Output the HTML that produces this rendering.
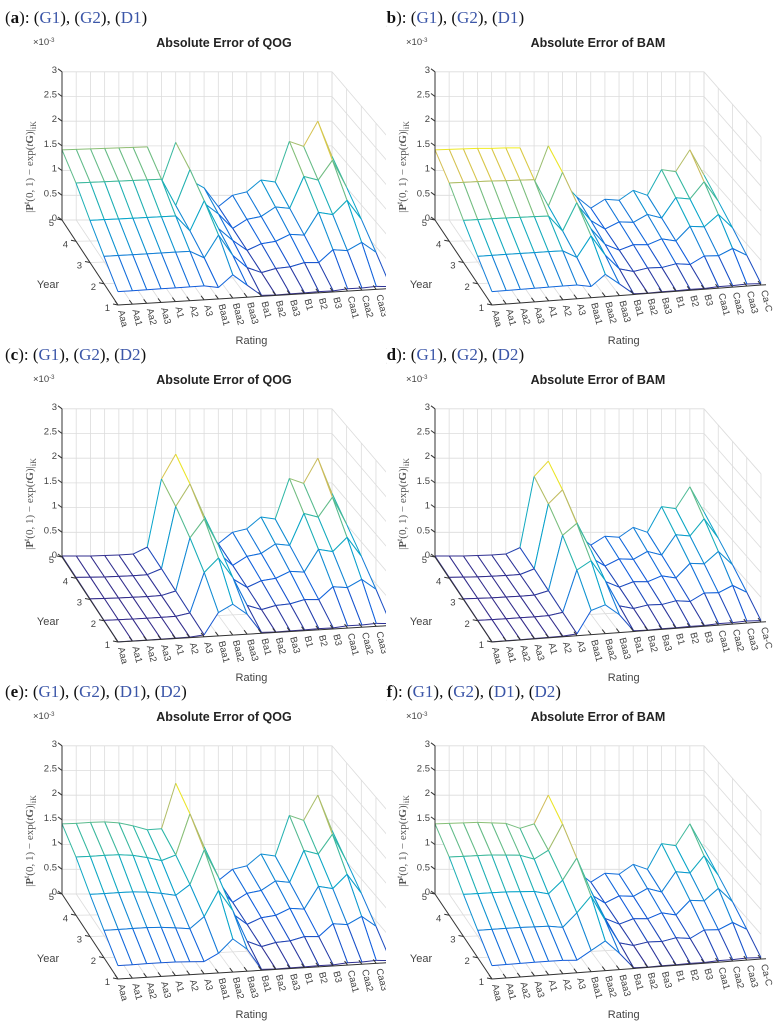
<!DOCTYPE html>
<html><head><meta charset="utf-8">
<style>
html,body{margin:0;padding:0;background:#fff;}
svg{display:block;}
.hdr{font-family:"Liberation Serif",serif;font-size:17px;fill:#111;}
.blue{fill:#3b56a8;}
.ttl{font-family:"Liberation Sans",sans-serif;font-size:12.5px;font-weight:bold;fill:#222;}
.tk{font-family:"Liberation Sans",sans-serif;font-size:9.5px;fill:#444;}
.ax{font-family:"Liberation Sans",sans-serif;font-size:11px;fill:#444;}
.zl{font-family:"Liberation Serif",serif;font-size:11px;fill:#555;}
</style></head>
<body>
<svg id="fig" width="776" height="1024" viewBox="0 0 776 1024" xmlns="http://www.w3.org/2000/svg">
<defs>
<clipPath id="clipL"><rect x="0" y="0" width="386" height="1024"/></clipPath>
<clipPath id="clipR"><rect x="386" y="0" width="390" height="1024"/></clipPath>
</defs>
</svg>
<script>
const ratings = ['Aaa','Aa1','Aa2','Aa3','A1','A2','A3','Baa1','Baa2','Baa3','Ba1','Ba2','Ba3','B1','B2','B3','Caa1','Caa2','Caa3','Ca-C'];
const years = [1,2,3,4,5];
const yearTickLabels = ['1','2','3','4','5'];
const zTicks = [0,0.5,1,1.5,2,2.5,3];
const zTickLabels = ['0','0.5','1','1.5','2','2.5','3'];
// back-row (year 5) error profiles, units of 1e-3
const profileA = [1.42,1.43,1.44,1.45,1.46,1.47,1.48,0.77,1.57,0.81,0.65,0.27,0.5,0.57,0.81,0.77,1.59,1.49,2.0,1.29];
const profileB = [1.42,1.43,1.44,1.45,1.45,1.46,1.46,0.75,1.5,0.78,0.47,0.24,0.42,0.4,0.6,0.5,1.02,0.98,1.42,0.91];
const profileC = [0.02,0.02,0.02,0.03,0.04,0.06,0.2,1.58,2.08,1.35,0.6,0.27,0.5,0.57,0.81,0.77,1.59,1.49,2.0,1.29];
const profileD = [0.02,0.02,0.02,0.03,0.04,0.06,0.19,1.63,1.94,1.2,0.47,0.24,0.42,0.4,0.6,0.5,1.02,0.98,1.42,0.91];
const profileE = [1.42,1.43,1.45,1.46,1.44,1.38,1.3,1.32,2.24,1.49,0.67,0.27,0.5,0.57,0.81,0.77,1.59,1.49,2.0,1.29];
const profileF = [1.42,1.43,1.44,1.45,1.44,1.43,1.33,1.42,2.0,1.1,0.47,0.24,0.42,0.4,0.6,0.5,1.02,0.98,1.42,0.91];
// year scaling of each region relative to year 5
const leftFactor = [0.19,0.39,0.6,0.83,1];
const midFactor = [0.3,0.56,0.75,0.9,1];
const rightFactor = [0.03,0.3,0.55,0.78,1];

const NS='http://www.w3.org/2000/svg';
const svg=document.getElementById('fig');
function mk(tag,attrs,parent){const e=document.createElementNS(NS,tag);for(const k in attrs)e.setAttribute(k,attrs[k]);(parent||svg).appendChild(e);return e;}

const stops=[[0,53,42,135],[0.143,15,92,221],[0.286,20,129,214],[0.429,6,164,202],[0.571,46,183,164],[0.714,135,191,119],[0.857,209,187,89],[1,249,251,14]];
function parula(t){t=Math.max(0,Math.min(1,t));for(let k=1;k<stops.length;k++){if(t<=stops[k][0]){const a=stops[k-1],b=stops[k];const f=(t-a[0])/(b[0]-a[0]);return 'rgb('+[1,2,3].map(j=>Math.round(a[j]+f*(b[j]-a[j]))).join(',')+')';}}return 'rgb(249,251,14)';}

function regionFactor(i,yi){ if(i<=6) return leftFactor[yi]; if(i<=9) return midFactor[yi]; return rightFactor[yi]; }

const panels=[
 {id:'a',prof:profileA,side:'L',oy:0,method:'QOG',tags:['G1','G2','D1']},
 {id:'b',prof:profileB,side:'R',oy:0,method:'BAM',tags:['G1','G2','D1']},
 {id:'c',prof:profileC,side:'L',oy:337,method:'QOG',tags:['G1','G2','D2']},
 {id:'d',prof:profileD,side:'R',oy:337,method:'BAM',tags:['G1','G2','D2']},
 {id:'e',prof:profileE,side:'L',oy:674,method:'QOG',tags:['G1','G2','D1','D2']},
 {id:'f',prof:profileF,side:'R',oy:674,method:'BAM',tags:['G1','G2','D1','D2']}
];
const geom={
 L:{P11:[118,305],P15:[62,220],Pr1:[390.6,288.5],Pr5:[332,220],hx:5,tx:224,zx:33},
 R:{P11:[492,305],P15:[435,220],Pr1:[761,285],Pr5:[704,220],hx:381,tx:598,zx:406}
};
const ZS=49.4;

panels.forEach(p=>{
 const g=geom[p.side];
 const oy=p.oy;
 const n=ratings.length;
 function proj(i,yr,z){
  const u=i/(n-1), v=(yr-1)/(years.length-1);
  const fx=g.P11[0]+(g.Pr1[0]-g.P11[0])*u, fy=g.P11[1]+(g.Pr1[1]-g.P11[1])*u;
  const bx=g.P15[0]+(g.Pr5[0]-g.P15[0])*u, by=g.P15[1]+(g.Pr5[1]-g.P15[1])*u;
  return [fx+(bx-fx)*v, fy+(by-fy)*v+oy - z*ZS];
 }
 const grp=mk('g',{'clip-path':'url(#clip'+p.side+')'});
 
 

 const hdr=mk('text',{x:g.hx,y:oy+23,class:'hdr'},grp);
 
 
 let html='(<tspan font-weight="bold">'+p.id+'</tspan>): ';
 html+=p.tags.map(t=>'(<tspan class="blue">'+t+'</tspan>)').join(', ');
 hdr.innerHTML=html;

 const tt=mk('text',{x:g.tx,y:oy+47,class:'ttl','text-anchor':'middle'},grp);
 
 
 tt.textContent='Absolute Error of '+p.method;

 const ex=mk('text',{x:g.zx,y:oy+45,class:'tk','font-size':'8','fill':'#777'},grp);
 
 
 ex.innerHTML='×10<tspan dy="-3" font-size="6">-3</tspan>';

 const grid=mk('g',{stroke:'#dcdcdc','stroke-width':'0.8',fill:'none'},grp);
 
 
 const yMax=years[years.length-1], yMin=years[0];
 for(let i=0;i<n;i++){
  const a=proj(i,yMax,0),b=proj(i,yMax,3),c=proj(i,yMin,0);
  mk('line',{x1:a[0],y1:a[1],x2:b[0],y2:b[1]},grid);
  mk('line',{x1:a[0],y1:a[1],x2:c[0],y2:c[1]},grid);
 }
 zTicks.forEach(z=>{
  const a=proj(0,yMax,z),b=proj(n-1,yMax,z),c=proj(n-1,yMin,z);
  mk('line',{x1:a[0],y1:a[1],x2:b[0],y2:b[1]},grid);
  mk('line',{x1:b[0],y1:b[1],x2:c[0],y2:c[1]},grid);
 });
 years.forEach(yr=>{
  const a=proj(0,yr,0),b=proj(n-1,yr,0),c=proj(n-1,yr,3);
  mk('line',{x1:a[0],y1:a[1],x2:b[0],y2:b[1]},grid);
  mk('line',{x1:b[0],y1:b[1],x2:c[0],y2:c[1]},grid);
 });

 const Z=years.map((yr,yi)=>p.prof.map((v,i)=>v*regionFactor(i,yi)));
 const zmax=Math.max(...Z.flat());
 const mesh=mk('g',{'stroke-width':'1','stroke-linejoin':'round'},grp);
 
 
 for(let yi=years.length-2;yi>=0;yi--){
  for(let i=n-2;i>=0;i--){
   const c=[[i,yi],[i+1,yi],[i+1,yi+1],[i,yi+1]];
   const pts=c.map(q=>proj(q[0],years[q[1]],Z[q[1]][q[0]]));
   const poly=mk('polygon',{points:pts.map(q=>q.join(',')).join(' '),fill:'#fff',stroke:'none'},mesh);
   
   
   for(let k=0;k<4;k++){
    const q1=c[k],q2=c[(k+1)%4];
    const zv=(Z[q1[1]][q1[0]]+Z[q2[1]][q2[0]])/2;
    const ln=mk('line',{x1:pts[k][0],y1:pts[k][1],x2:pts[(k+1)%4][0],y2:pts[(k+1)%4][1],stroke:parula(zv/zmax)},mesh);
    
    
   }
  }
 }

 const axes=mk('g',{stroke:'#333','stroke-width':'1',fill:'none'},grp);
 
 
 let a=proj(0,yMax,0),b=proj(0,yMax,3);
 mk('line',{x1:a[0],y1:a[1],x2:b[0],y2:b[1]},axes);
 b=proj(0,yMin,0);
 mk('line',{x1:a[0],y1:a[1],x2:b[0],y2:b[1]},axes);
 a=proj(n-1,yMin,0);
 mk('line',{x1:b[0],y1:b[1],x2:a[0]+5,y2:a[1]-0.3},axes);

 zTicks.forEach((z,k)=>{
  const q=proj(0,yMax,z);
  mk('line',{x1:q[0],y1:q[1],x2:q[0]-4,y2:q[1]-3},axes);
  const t=mk('text',{x:q[0]-5,y:q[1]+1,class:'tk','text-anchor':'end'},grp);
  
  
  t.textContent=zTickLabels[k];
 });
 years.forEach((yr,k)=>{
  const q=proj(0,yr,0);
  mk('line',{x1:q[0],y1:q[1],x2:q[0]-5,y2:q[1]-1},axes);
  const t=mk('text',{x:q[0]-8,y:q[1]+6,class:'tk','text-anchor':'end'},grp);
  
  
  t.textContent=yearTickLabels[k];
 });
 ratings.forEach((r,i)=>{
  const q=proj(i,yMin,0);
  mk('line',{x1:q[0],y1:q[1],x2:q[0]-3,y2:q[1]-4},axes);
  const t=mk('text',{x:q[0]+0,y:q[1]+6,class:'tk',transform:'rotate(76 '+(q[0])+' '+(q[1]+6)+')'},grp);
  
  
  t.textContent=r;
 });
 const yp=proj(0,yMax,0);
 const yt=mk('text',{x:yp[0]-14,y:oy+288,class:'ax','text-anchor':'middle'},grp);
 
 
 yt.textContent='Year';
 const rl=proj(9.3,yMin,0);
 const rt=mk('text',{x:rl[0],y:oy+344,class:'ax','text-anchor':'middle'},svg);
 
 
 rt.textContent='Rating';
 const zc=oy+167;
 const zt=mk('text',{x:g.zx,y:zc,class:'zl','text-anchor':'middle',transform:'rotate(-90 '+g.zx+' '+zc+')'},grp);
 
 
 zt.innerHTML='|<tspan font-weight="bold">P</tspan><tspan dy="-4" font-size="8">t</tspan><tspan dy="4">(0, 1) − exp(</tspan><tspan font-style="italic">t</tspan><tspan font-weight="bold">G</tspan>)|<tspan dy="3" font-size="8">iK</tspan>';
});
</script>
</body></html>
